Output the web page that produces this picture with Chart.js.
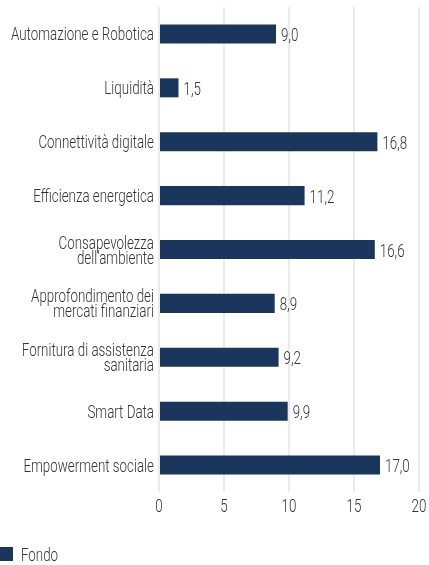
<!DOCTYPE html>
<html>
<head>
<meta charset="utf-8">
<script src="https://cdn.jsdelivr.net/npm/chart.js@4/dist/chart.umd.min.js"></script>
<style>
  html, body { margin: 0; padding: 0; background: #fff; }
  #wrap { position: relative; width: 429px; height: 565px; }
</style>
</head>
<body>
<div id="wrap"><canvas id="chart" width="429" height="565"></canvas></div>
<script>
// categories and values
const categories = [
  ["Automazione e Robotica"],
  ["Liquidità"],
  ["Connettività digitale"],
  ["Efficienza energetica"],
  ["Consapevolezza", "dell'ambiente"],
  ["Approfondimento dei", "mercati finanziari"],
  ["Fornitura di assistenza", "sanitaria"],
  ["Smart Data"],
  ["Empowerment sociale"]
]
const fondo = [9.0, 1.5, 16.8, 11.2, 16.6, 8.9, 9.2, 9.9, 17.0]
const xTicks = [0, 5, 10, 15, 20]
const seriesName = "Fondo"

const FONT = "300 18.8px Roboto, 'Liberation Sans', sans-serif"
const TEXT = "#333333"
const NAVY = "#1b365d"

// the reference uses a very narrow face; squeeze a normal one horizontally
let squeeze = null
function condText(ctx, txt, x, y, align) {
  ctx.font = FONT
  if (squeeze === null) squeeze = 143 / ctx.measureText("Automazione e Robotica").width
  const w = ctx.measureText(txt).width * squeeze
  let left = x
  if (align === "right") left = x - w
  else if (align === "center") left = x - w / 2
  ctx.save()
  ctx.translate(left, y)
  ctx.scale(squeeze, 1)
  ctx.textAlign = "left"
  ctx.textBaseline = "alphabetic"
  ctx.fillText(txt, 0, 0)
  ctx.restore()
}

const condensedText = {
  id: "condensedText",
  afterDraw(chart) {
    const ctx = chart.ctx
    const xs = chart.scales.x
    const ys = chart.scales.y
    const meta = chart.getDatasetMeta(0)
    ctx.save()
    ctx.fillStyle = TEXT

    // category labels
    categories.forEach((lines, i) => {
      const cy = ys.getPixelForValue(i)
      const lh = 15
      const first = cy - (lines.length - 1) * lh / 2 + 6.5
      lines.forEach((t, k) => condText(ctx, t, xs.left - 5, first + k * lh, "right"))
    })

    // value labels
    meta.data.forEach((bar, i) => {
      const txt = fondo[i].toFixed(1).replace(".", ",")
      condText(ctx, txt, bar.x + 5, bar.y + 7, "left")
    })

    // x tick labels
    xTicks.forEach(v => {
      condText(ctx, String(v), xs.getPixelForValue(v), xs.top + 20, "center")
    })

    // legend
    ctx.fillStyle = NAVY
    ctx.fillRect(0, 547, 13, 14)
    ctx.fillStyle = TEXT
    condText(ctx, seriesName, 21, 561, "left")
    ctx.restore()
  }
}

new Chart(document.getElementById("chart"), {
  type: "bar",
  data: {
    labels: categories.map(l => l.join(" ")),
    datasets: [{
      label: seriesName,
      data: fondo,
      backgroundColor: NAVY,
      borderWidth: 0,
      barPercentage: 0.7,
      categoryPercentage: 0.505
    }]
  },
  options: {
    indexAxis: "y",
    responsive: false,
    animation: false,
    layout: { padding: { top: 7, right: 10, left: 0, bottom: 0 } },
    plugins: {
      legend: { display: false },
      tooltip: { enabled: false }
    },
    scales: {
      x: {
        min: 0,
        max: 20,
        afterBuildTicks(scale) {
          scale.ticks = xTicks.map(v => ({ value: v }))
        },
        grid: { color: "#ebebeb", lineWidth: 2, drawTicks: false },
        border: { display: false },
        ticks: { display: false },
        afterFit(scale) { scale.height = 73 }
      },
      y: {
        grid: { display: false },
        border: { display: false },
        ticks: { display: false },
        afterFit(scale) { scale.width = 159 }
      }
    }
  },
  plugins: [condensedText]
})
</script>
</body>
</html>
